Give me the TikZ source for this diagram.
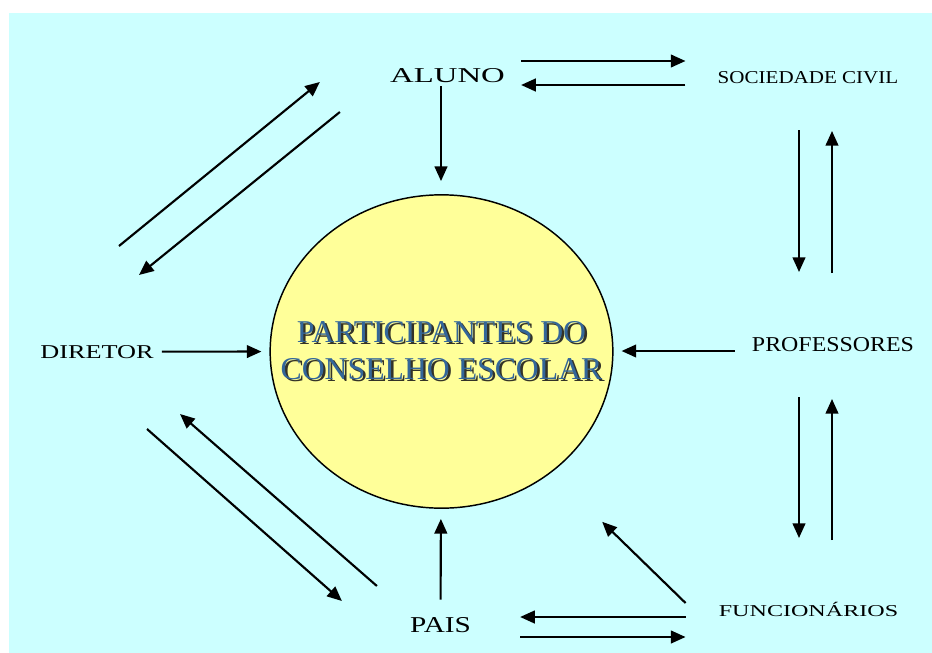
\documentclass[tikz,border=0pt]{standalone}
\usepackage{fontspec}
\setmainfont{Liberation Serif}
\usetikzlibrary{shapes.geometric,arrows.meta}
\definecolor{csbg}{RGB}{204, 255, 255}
\definecolor{csyellow}{RGB}{255, 255, 153}
\definecolor{csblue}{RGB}{51, 102, 153}
\definecolor{csshadow}{RGB}{51, 51, 40}

\newcommand{\shadowtext}[1]{\leavevmode\rlap{\kern1.8pt\raisebox{-1.8pt}{\color{csshadow}#1}}{\color{csblue}#1}}
\newcommand{\stretched}[2]{\scalebox{#1}[1]{#2}}

\begin{document}
\begin{tikzpicture}[x=0.75pt, y=-0.75pt,
		% Node styles
		conselho_circle/.style={ellipse, draw=black, fill=csyellow, line width=1.1pt,
				minimum width=257pt, minimum height=235pt, inner sep=0pt},
		titulo/.style={align=center, inner sep=0pt, font=\fontsize{23.8}{27.75}\selectfont},
		ator/.style={anchor=base, inner sep=0pt, text=black, font=\fontsize{#1}{#1}\selectfont},
		connector/.style={-{Triangle[length=11pt, width=9.5pt]}, line width=1.6pt, draw=black},
	]

	% Background
	\fill[csbg] (9,13) rectangle (932,653);
	\useasboundingbox (0,0) rectangle (932,653);

	% Council in the middle
	\node[conselho_circle] (conselho) at (441.5,351.5) {};
	\node[titulo] (titulo) at (conselho.center) {\shadowtext{PARTICIPANTES DO}\\\shadowtext{CONSELHO ESCOLAR}};

	% Participants around it
	\node[ator=15.86] (aluno) at (447.5,82) {\stretched{1.55}{ALUNO}};
	\node[ator=13.6] (sociedade) at (808,83) {\stretched{1.16}{SOCIEDADE CIVIL}};
	\node[ator=14.7] (diretor) at (97,358) {\stretched{1.34}{DIRETOR}};
	\node[ator=15.86] (professores) at (833,351) {\stretched{1.13}{PROFESSORES}};
	\node[ator=12.46] (funcionarios) at (808.5,616) {\stretched{1.45}{FUNCIONÁRIOS}};
	\node[ator=17] (pais) at (440.5,632) {\stretched{1.29}{PAIS}};

	% Connections to the council
	\draw[connector] ([shift={(-6.5,4)}]aluno.base) -- ([shift={(-0.5,-13)}]conselho.north);
	\draw[connector, shorten <=6pt, shorten >=6pt] (diretor) -- (conselho);
	\draw[connector] ([shift={(-17,0)}]professores.base west) -- ([shift={(8,-0.5)}]conselho.east);
	\draw[connector, shorten <=12.75pt, shorten >=7.5pt] (pais) -- (conselho);
	\draw[connector] ([shift={(-33,-13)}]funcionarios.base west) -- ([shift={(39,59)}]conselho.south east);

	% Aluno <-> Sociedade Civil
	\draw[connector] ([shift={(16,-21)}]aluno.base east) -- ([shift={(-32,-22)}]sociedade.base west);
	\draw[connector] ([shift={(-32,2)}]sociedade.base west) -- ([shift={(16,3)}]aluno.base east);

	% Sociedade Civil <-> Professores <-> Funcionarios
	\draw[connector] ([shift={(-9,47)}]sociedade.base) -- ([shift={(-34,-79)}]professores.base);
	\draw[connector] ([shift={(-1,-78)}]professores.base) -- ([shift={(24,48)}]sociedade.base);
	\draw[connector] ([shift={(-34,46)}]professores.base) -- ([shift={(-9.5,-78)}]funcionarios.base);
	\draw[connector] ([shift={(23.5,-76)}]funcionarios.base) -- ([shift={(-1,48)}]professores.base);

	% Funcionarios <-> Pais
	\draw[connector] ([shift={(-33,1)}]funcionarios.base west) -- ([shift={(49,-15)}]pais.base east);
	\draw[connector] ([shift={(49,5)}]pais.base east) -- ([shift={(-33,21)}]funcionarios.base west);

	% Diretor <-> Aluno and Diretor <-> Pais
	\draw[connector] ([shift={(22,-112)}]diretor.base) -- ([shift={(-70,0)}]aluno.base west);
	\draw[connector] ([shift={(-50,30)}]aluno.base west) -- ([shift={(42,-83)}]diretor.base);
	\draw[connector] ([shift={(50,71)}]diretor.base) -- ([shift={(-68,-31)}]pais.base west);
	\draw[connector] ([shift={(-33,-46)}]pais.base west) -- ([shift={(83,56)}]diretor.base);

\end{tikzpicture}
\end{document}
